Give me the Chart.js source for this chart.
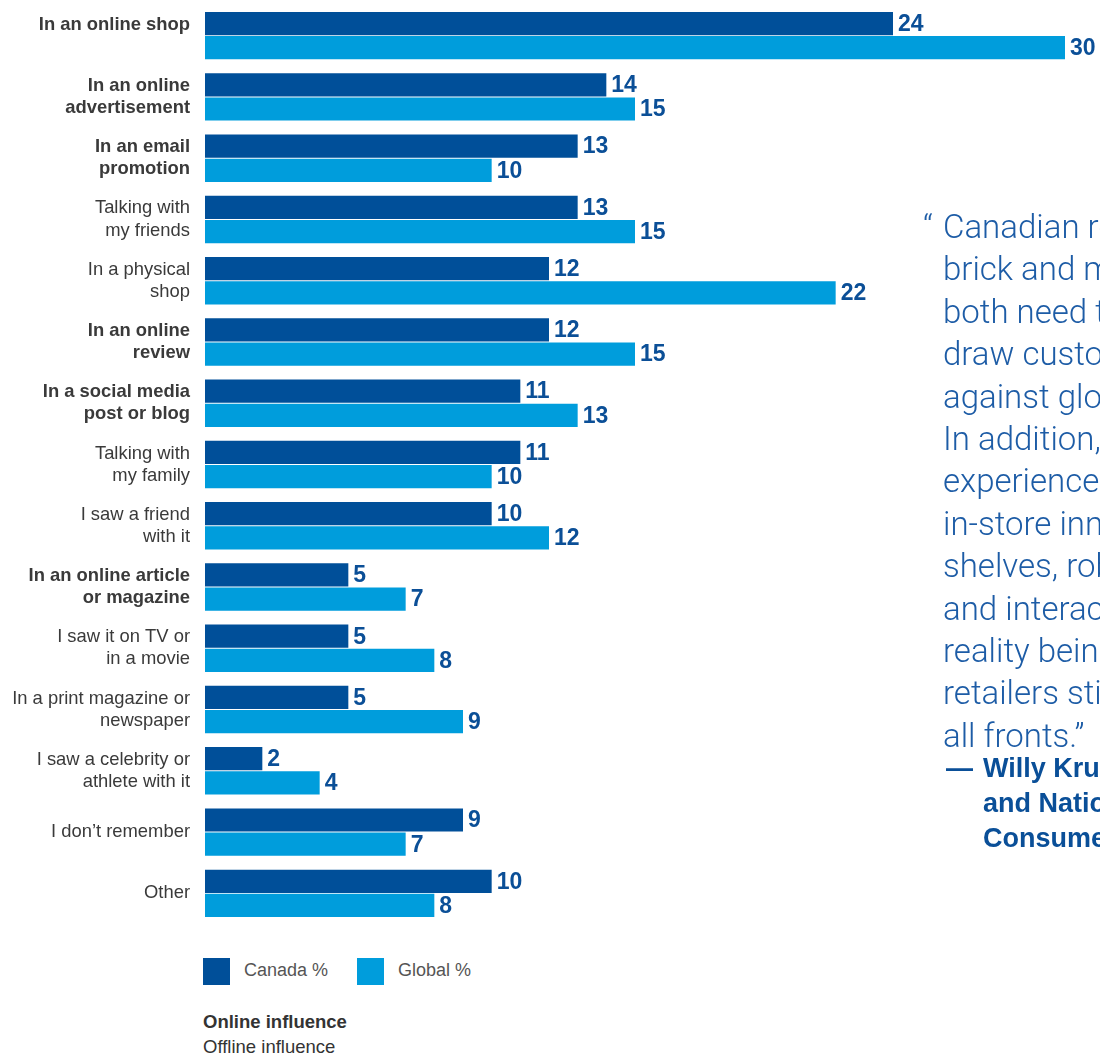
<!DOCTYPE html>
<html>
<head>
<meta charset="utf-8">
<script src="https://cdn.jsdelivr.net/npm/chart.js@4/dist/chart.umd.min.js"></script>
<style>
    body { margin: 0; background: #fff; width: 1100px; height: 1056px; overflow: hidden; position: relative; font-family: "Liberation Sans", Arial, sans-serif; }
    #chartBox { position: absolute; left: 0; top: 0; width: 1100px; height: 930px; }
    .quote { position: absolute; left: 943px; top: 206px; font-family: Roboto, "Liberation Sans", sans-serif; font-weight: 300; font-size: 33px; line-height: 42.4px; color: #1d5ca6; white-space: nowrap; }
    .quote .mark { position: absolute; left: -20px; top: 0; }
    .author { position: absolute; left: 983px; top: 751px; font-weight: bold; font-size: 27px; line-height: 35px; color: #0a4f98; white-space: nowrap; }
    .author .dash { position: absolute; left: -37px; top: 0; }
    .legend { position: absolute; left: 203px; top: 958px; font-size: 18px; color: #555; }
    .legend span.box { display: inline-block; width: 27px; height: 27px; vertical-align: middle; margin-right: 14px; }
    .legend span.item { display: inline-block; margin-right: 29px; }
    .notes { position: absolute; left: 203px; top: 1009px; font-size: 18.5px; line-height: 25px; color: #333; }
</style>
</head>
<body>
<div id="chartBox"><canvas id="influenceChart"></canvas></div>

<div class="quote"><span class="mark">“</span>Canadian retailers – both<br>brick and mortar and online –<br>both need to work harder to<br>draw customers and compete<br>against global competitors.<br>In addition, the customer<br>experience is evolving, with<br>in-store innovations like smart<br>shelves, robots, mobile apps<br>and interactive virtual<br>reality being tested, so<br>retailers still compete on<br>all fronts.”</div>
<div class="author"><span class="dash">—</span>Willy Kruh, Partner<br>and National Sector Leader,<br>Consumer &amp; Retail, KPMG in Canada</div>

<div class="legend" id="legend"></div>
<div class="notes"><b>Online influence</b><br>Offline influence</div>

<script>
// categories (two-line labels as arrays)
const categories = [
    ['In an online shop', ''],
    ['In an online', 'advertisement'],
    ['In an email', 'promotion'],
    ['Talking with', 'my friends'],
    ['In a physical', 'shop'],
    ['In an online', 'review'],
    ['In a social media', 'post or blog'],
    ['Talking with', 'my family'],
    ['I saw a friend', 'with it'],
    ['In an online article', 'or magazine'],
    ['I saw it on TV or', 'in a movie'],
    ['In a print magazine or', 'newspaper'],
    ['I saw a celebrity or', 'athlete with it'],
    'I don’t remember',
    'Other'
];
// true = online influence (bold label)
const onlineFlags = [true, true, true, false, false, true, true, false, false, true, false, false, false, false, false];

const canadaValues = [24, 14, 13, 13, 12, 12, 11, 11, 10, 5, 5, 5, 2, 9, 10];
const globalValues = [30, 15, 10, 15, 22, 15, 13, 10, 12, 7, 8, 9, 4, 7, 8];

const seriesNames = ['Canada %', 'Global %'];
const seriesColors = ['#004f99', '#009ddc'];

// value labels at the end of every bar
const barValueLabels = {
    id: 'barValueLabels',
    afterDatasetsDraw(chart) {
        const ctx = chart.ctx;
        ctx.save();
        ctx.font = 'bold 23px "Liberation Sans", Arial, sans-serif';
        ctx.fillStyle = '#0b4f97';
        ctx.textAlign = 'left';
        ctx.textBaseline = 'middle';
        chart.data.datasets.forEach((ds, i) => {
            chart.getDatasetMeta(i).data.forEach((bar, j) => {
                ctx.fillText(ds.data[j], bar.x + 5, bar.y + 1);
            });
        });
        ctx.restore();
    }
};

let influenceChart;
function drawChart() {
    const ctx = document.getElementById('influenceChart');
    if (!ctx) return;
    if (influenceChart) {
        influenceChart.destroy();
    }
    influenceChart = new Chart(ctx.getContext('2d'), {
        type: 'bar',
        data: {
            labels: categories,
            datasets: [{
                label: seriesNames[0],
                data: canadaValues,
                backgroundColor: seriesColors[0],
                categoryPercentage: 0.79,
                barPercentage: 0.96
            }, {
                label: seriesNames[1],
                data: globalValues,
                backgroundColor: seriesColors[1],
                categoryPercentage: 0.79,
                barPercentage: 0.96
            }]
        },
        options: {
            indexAxis: 'y',
            responsive: true,
            maintainAspectRatio: false,
            animation: false,
            layout: { padding: { top: 5, right: 35, bottom: 6, left: 0 } },
            plugins: {
                legend: { display: false },
                tooltip: { enabled: false }
            },
            scales: {
                x: {
                    display: false,
                    min: 0,
                    max: 30
                },
                y: {
                    grid: { display: false, drawTicks: false },
                    border: { display: false },
                    afterFit: (scale) => {
                        scale.width = 205;
                        scale.paddingTop = 0;    // labels may overhang the chart area
                        scale.paddingBottom = 0;
                    },
                    ticks: {
                        padding: 15,
                        color: '#3a3a3a',
                        font: (c) => ({
                            family: '"Liberation Sans", Arial, sans-serif',
                            size: 18.4,
                            lineHeight: 1.2,
                            weight: onlineFlags[c.index] ? 'bold' : 'normal'
                        })
                    }
                }
            }
        },
        plugins: [barValueLabels]
    });
}

document.addEventListener('DOMContentLoaded', function() {
    drawChart();
    // html legend
    const legend = document.getElementById('legend');
    seriesNames.forEach((name, i) => {
        const item = document.createElement('span');
        item.className = 'item';
        item.innerHTML = `<span class="box" style="background:${seriesColors[i]}"></span>${name}`;
        legend.appendChild(item);
    });
});
</script>
</body>
</html>
